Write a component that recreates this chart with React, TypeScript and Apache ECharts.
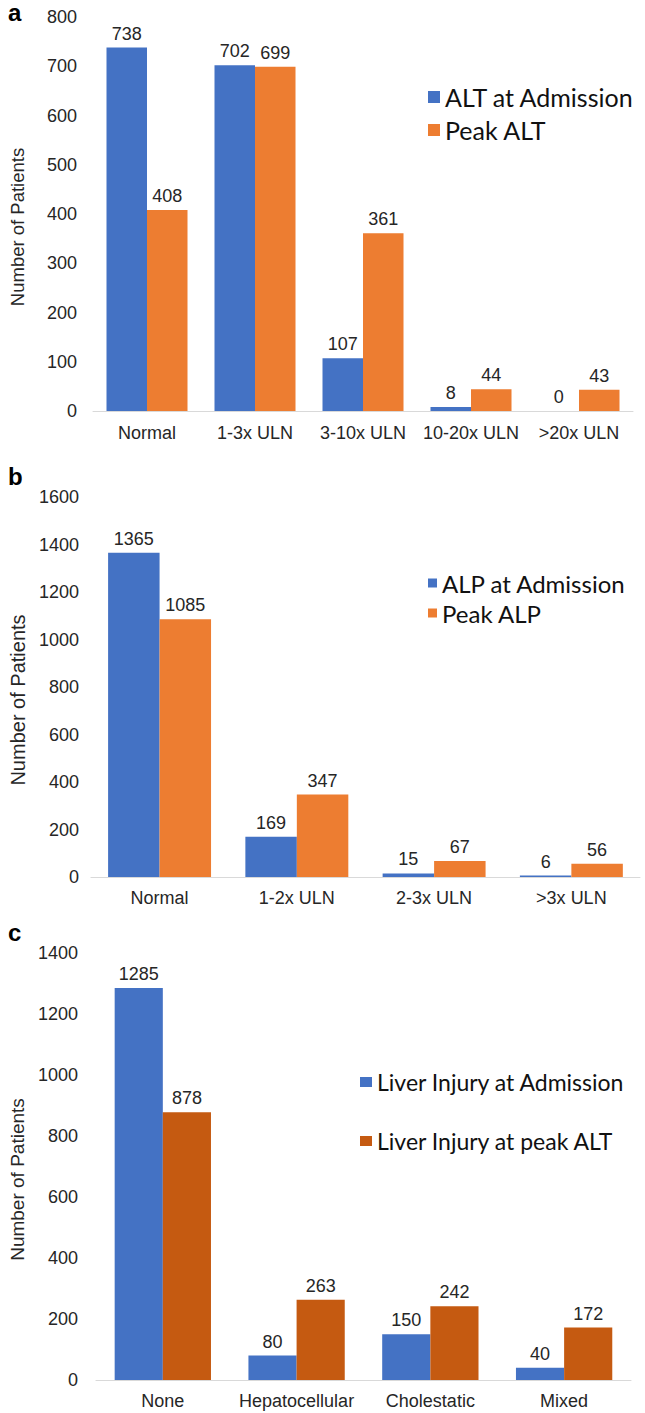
import React, { useEffect, useRef } from "react";
import * as echarts from "echarts";

const catsA = ["Normal", "1-3x ULN", "3-10x ULN", "10-20x ULN", ">20x ULN"];
const altAdmission = [738, 702, 107, 8, 0];
const altPeak = [408, 699, 361, 44, 43];

const catsB = ["Normal", "1-2x ULN", "2-3x ULN", ">3x ULN"];
const alpAdmission = [1365, 169, 15, 6];
const alpPeak = [1085, 347, 67, 56];

const catsC = ["None", "Hepatocellular", "Cholestatic", "Mixed"];
const injuryAdmission = [1285, 80, 150, 40];
const injuryPeak = [878, 263, 242, 172];

const BLUE = "#4472C4";
const ORANGE = "#ED7D31";
const DARK_ORANGE = "#C55A11";
const TXT = "#262626";
const AX = "Liberation Sans, Arial, sans-serif";
const LEG = "Lato, sans-serif";

export default function App() {
  const ref = useRef<HTMLDivElement>(null);
  useEffect(() => {
    document.body.style.margin = "0";
    const chart = echarts.init(ref.current!, null, { renderer: "svg" });
    const xAxisBase = (gridIndex: number, data: string[], margin: number) => ({
      type: "category",
      gridIndex,
      data,
      axisLine: { show: true, lineStyle: { color: "#d9d9d9", width: 1 } },
      axisTick: { show: false },
      axisLabel: { color: TXT, fontSize: 18, fontFamily: AX, margin, interval: 0 },
    });
    const yAxisBase = (gridIndex: number, max: number, interval: number, margin: number, nameGap: number, nameSize: number) => ({
      type: "value",
      gridIndex,
      min: 0,
      max,
      interval,
      name: "Number of Patients",
      nameLocation: "middle",
      nameRotate: 90,
      nameGap,
      nameTextStyle: { color: TXT, fontSize: nameSize, fontFamily: AX, padding: [0, 26, 0, 0] },
      axisLine: { show: false },
      axisTick: { show: false },
      splitLine: { show: false },
      axisLabel: { color: TXT, fontSize: 18, fontFamily: AX, margin, formatter: (v: number) => String(v) },
    });
    const bar = (name: string, data: number[], color: string, idx: number, gap: string) => ({
      type: "bar",
      name,
      data,
      xAxisIndex: idx,
      yAxisIndex: idx,
      barGap: "0%",
      barCategoryGap: gap,
      itemStyle: { color },
      label: { show: true, position: "top", distance: 5, color: TXT, fontSize: 18, fontFamily: AX },
    });
    const legend = (names: string[], left: number, top: number, size: number, lineHeight: number, gap: number, w: number, h: number) => ({
      data: names,
      orient: "vertical",
      left,
      top,
      itemGap: gap,
      itemWidth: w,
      itemHeight: h,
      icon: "rect",
      padding: 0,
      selectedMode: false,
      textStyle: { color: "#111", fontSize: size, fontFamily: LEG, lineHeight },
    });
    chart.setOption({
      animation: false,
      backgroundColor: "#fff",
      grid: [
        { left: 88, right: 12, top: 17, height: 394 },
        { left: 77, right: 5, top: 497, height: 380 },
        { left: 83, right: 14, top: 953, height: 427 },
      ],
      xAxis: [xAxisBase(0, catsA, 13), xAxisBase(1, catsB, 12), xAxisBase(2, catsC, 12)],
      yAxis: [
        yAxisBase(0, 800, 100, 16, 66, 18.5),
        yAxisBase(1, 1600, 200, 12, 57, 20),
        yAxisBase(2, 1400, 200, 18, 63, 19),
      ],
      legend: [
        legend(["ALT at Admission", "Peak ALT"], 428, 83, 25, 28, 5, 12, 12),
        legend(["ALP at Admission", "Peak ALP"], 428, 570, 24, 26, 4, 9, 9),
        legend(["Liver Injury at Admission", "Liver Injury at peak ALT"], 360, 1068, 23, 28, 31, 12, 10),
      ],
      series: [
        bar("ALT at Admission", altAdmission, BLUE, 0, "25%"),
        bar("Peak ALT", altPeak, ORANGE, 0, "25%"),
        bar("ALP at Admission", alpAdmission, BLUE, 1, "25%"),
        bar("Peak ALP", alpPeak, ORANGE, 1, "25%"),
        bar("Liver Injury at Admission", injuryAdmission, BLUE, 2, "28%"),
        bar("Liver Injury at peak ALT", injuryPeak, DARK_ORANGE, 2, "28%"),
      ],
      graphic: [
        { type: "text", left: 8, top: 0, style: { text: "a", fontSize: 24, fontWeight: "bold", fontFamily: AX, fill: "#000" } },
        { type: "text", left: 8, top: 464, style: { text: "b", fontSize: 24, fontWeight: "bold", fontFamily: AX, fill: "#000" } },
        { type: "text", left: 8, top: 920, style: { text: "c", fontSize: 24, fontWeight: "bold", fontFamily: AX, fill: "#000" } },
      ],
    });
    return () => chart.dispose();
  }, []);
  return <div ref={ref} style={{ width: 645, height: 1413 }} />;
}
